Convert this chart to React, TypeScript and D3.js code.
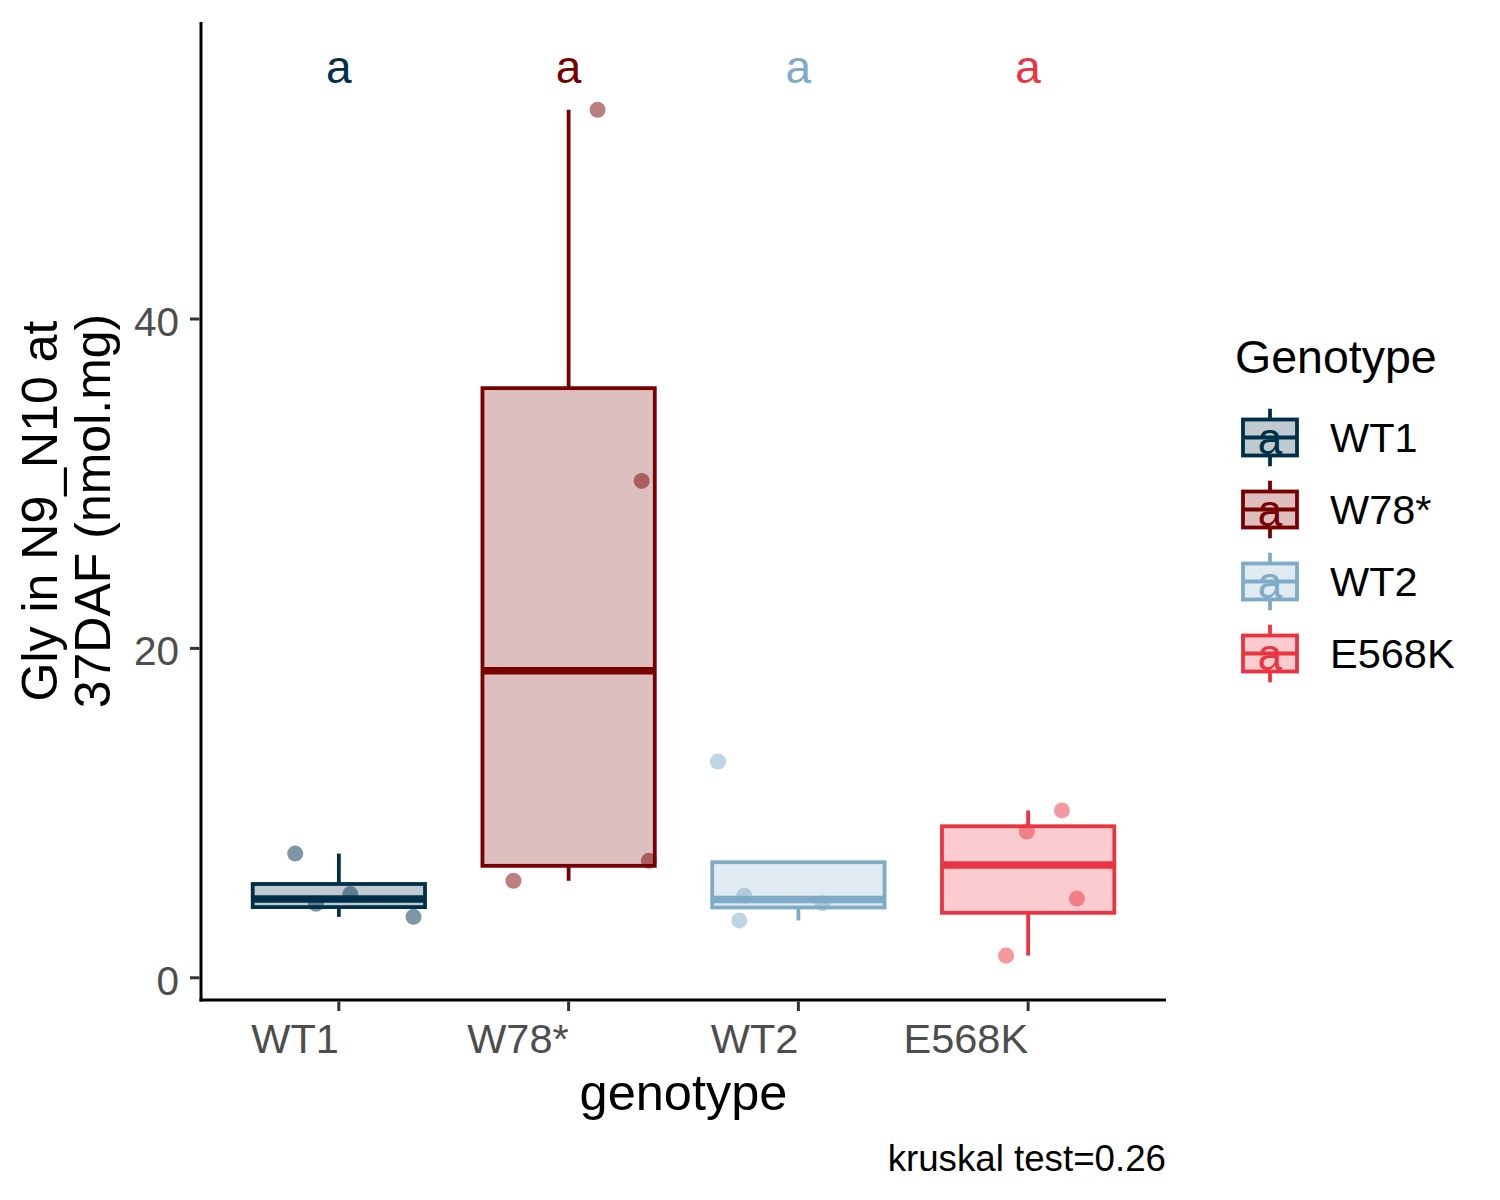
import { useEffect, useRef } from 'react';
import * as d3 from 'd3';

const genotypes = ['WT1', 'W78*', 'WT2', 'E568K'];
const genotypeColors = ['#003049', '#780000', '#7EABC7', '#EB3441'];
// Gly in N9_N10 at 37DAF (nmol.mg), four replicates per genotype
const glyValues = [
  [7.54, 4.49, 5.08, 3.7],
  [52.7, 30.17, 7.1, 5.89],
  [13.13, 4.98, 3.48, 4.53],
  [10.16, 8.88, 4.81, 1.35],
];
// horizontal jitter of each point, in category steps
const jitterOffsets = [
  [-0.19, -0.1, 0.05, 0.325],
  [0.126, 0.318, 0.349, -0.24],
  [-0.35, -0.235, -0.257, 0.105],
  [0.147, -0.006, 0.212, -0.096],
];
const groupLetters = ['a', 'a', 'a', 'a'];
const yTicks = [0, 20, 40];
const yTitleLines = ['Gly in N9_N10 at', '37DAF (nmol.mg)'];
const xTitle = 'genotype';
const legendTitle = 'Genotype';
const caption = 'kruskal test=0.26';

const WIDTH = 1500;
const HEIGHT = 1200;
const FONT = '"Liberation Sans", Arial, sans-serif';

function boxStats(values: number[]) {
  const s = [...values].sort(d3.ascending);
  const q1 = d3.quantile(s, 0.25) ?? 0;
  const med = d3.quantile(s, 0.5) ?? 0;
  const q3 = d3.quantile(s, 0.75) ?? 0;
  const iqr = q3 - q1;
  const inside = s.filter((v) => v >= q1 - 1.5 * iqr && v <= q3 + 1.5 * iqr);
  return {
    q1,
    med,
    q3,
    lo: Math.min(q1, d3.min(inside) ?? q1),
    hi: Math.max(q3, d3.max(inside) ?? q3),
  };
}

function BoxChart() {
  const svgRef = useRef<SVGSVGElement>(null);

  useEffect(() => {
    if (!svgRef.current) return;
    const svg = d3.select(svgRef.current);
    svg.selectAll('*').remove();

    const panel = { left: 201, right: 1166, top: 22, bottom: 1000 };

    const allValues = glyValues.flat();
    const labelY = (d3.max(allValues) ?? 0) * 1.05;
    const yMin = d3.min(allValues) ?? 0;
    const span = labelY - yMin;

    const x = d3
      .scalePoint<string>()
      .domain(genotypes)
      .range([panel.left, panel.right])
      .padding(0.6);
    const step = x.step();
    const y = d3
      .scaleLinear()
      .domain([yMin - 0.05 * span, labelY + 0.05 * span])
      .range([panel.bottom, panel.top]);

    const g = svg.append('g').style('font-family', FONT);

    // jittered points, under the boxes
    genotypes.forEach((gt, i) => {
      g.append('g')
        .selectAll('circle')
        .data(glyValues[i])
        .join('circle')
        .attr('cx', (_, j) => (x(gt) ?? 0) + jitterOffsets[i][j] * step)
        .attr('cy', (d) => y(d))
        .attr('r', 8)
        .attr('fill', genotypeColors[i])
        .attr('fill-opacity', 0.5);
    });

    // boxplots
    const boxW = step * 0.75;
    genotypes.forEach((gt, i) => {
      const st = boxStats(glyValues[i]);
      const cx = x(gt) ?? 0;
      const col = genotypeColors[i];
      const bg = g.append('g');
      bg.append('line')
        .attr('x1', cx).attr('x2', cx)
        .attr('y1', y(st.q3)).attr('y2', y(st.hi))
        .attr('stroke', col).attr('stroke-width', 3.8);
      bg.append('line')
        .attr('x1', cx).attr('x2', cx)
        .attr('y1', y(st.q1)).attr('y2', y(st.lo))
        .attr('stroke', col).attr('stroke-width', 3.8);
      bg.append('rect')
        .attr('x', cx - boxW / 2)
        .attr('y', y(st.q3))
        .attr('width', boxW)
        .attr('height', y(st.q1) - y(st.q3))
        .attr('fill', col)
        .attr('fill-opacity', 0.25)
        .attr('stroke', col)
        .attr('stroke-width', 3.8);
      bg.append('line')
        .attr('x1', cx - boxW / 2).attr('x2', cx + boxW / 2)
        .attr('y1', y(st.med)).attr('y2', y(st.med))
        .attr('stroke', col).attr('stroke-width', 7.5);
    });

    // group letters
    g.append('g')
      .selectAll('text')
      .data(genotypes)
      .join('text')
      .attr('x', (d) => x(d) ?? 0)
      .attr('y', y(labelY) + 17)
      .attr('text-anchor', 'middle')
      .attr('fill', (_, i) => genotypeColors[i])
      .style('font-size', '46px')
      .text((_, i) => groupLetters[i]);

    // axes
    g.append('line')
      .attr('x1', panel.left).attr('x2', panel.left)
      .attr('y1', panel.top).attr('y2', panel.bottom + 1.5)
      .attr('stroke', '#000').attr('stroke-width', 3);
    g.append('line')
      .attr('x1', panel.left - 1.5).attr('x2', panel.right)
      .attr('y1', panel.bottom).attr('y2', panel.bottom)
      .attr('stroke', '#000').attr('stroke-width', 3);

    const yAxis = g.append('g');
    yTicks.forEach((t) => {
      yAxis.append('line')
        .attr('x1', panel.left - 11).attr('x2', panel.left - 1.5)
        .attr('y1', y(t)).attr('y2', y(t))
        .attr('stroke', '#333').attr('stroke-width', 3);
      yAxis.append('text')
        .attr('x', panel.left - 22)
        .attr('y', y(t) + 17)
        .attr('text-anchor', 'end')
        .attr('fill', '#4D4D4D')
        .style('font-size', '40.5px')
        .text(String(t));
    });

    const xAxis = g.append('g');
    genotypes.forEach((gt) => {
      const cx = x(gt) ?? 0;
      xAxis.append('line')
        .attr('x1', cx).attr('x2', cx)
        .attr('y1', panel.bottom + 1.5).attr('y2', panel.bottom + 11)
        .attr('stroke', '#333').attr('stroke-width', 3);
      xAxis.append('text')
        .attr('x', cx)
        .attr('y', 1053)
        .attr('text-anchor', 'end')
        .attr('fill', '#4D4D4D')
        .style('font-size', '41.5px')
        .text(gt);
    });

    // titles
    const midY = (panel.top + panel.bottom) / 2;
    [57, 110].forEach((bx, i) => {
      g.append('text')
        .attr('transform', `translate(${bx},${midY}) rotate(-90)`)
        .attr('text-anchor', 'middle')
        .attr('fill', '#000')
        .style('font-size', '50px')
        .text(yTitleLines[i]);
    });
    g.append('text')
      .attr('x', (panel.left + panel.right) / 2)
      .attr('y', 1110)
      .attr('text-anchor', 'middle')
      .attr('fill', '#000')
      .style('font-size', '50.5px')
      .text(xTitle);
    g.append('text')
      .attr('x', panel.right)
      .attr('y', 1171)
      .attr('text-anchor', 'end')
      .attr('fill', '#000')
      .style('font-size', '36.7px')
      .text(caption);

    // legend
    const lg = g.append('g');
    lg.append('text')
      .attr('x', 1235)
      .attr('y', 373)
      .attr('fill', '#000')
      .style('font-size', '46.5px')
      .text(legendTitle);
    const key = 72;
    const keyX = 1234;
    const keyY = 401.5;
    genotypes.forEach((gt, i) => {
      const col = genotypeColors[i];
      const top = keyY + i * key;
      const cx = keyX + key / 2;
      const kg = lg.append('g');
      kg.append('line')
        .attr('x1', cx).attr('x2', cx)
        .attr('y1', top + key * 0.1).attr('y2', top + key * 0.9)
        .attr('stroke', col).attr('stroke-width', 3.8);
      kg.append('rect')
        .attr('x', keyX + key * 0.125)
        .attr('y', top + key * 0.25)
        .attr('width', key * 0.75)
        .attr('height', key * 0.5)
        .attr('fill', '#fff');
      kg.append('rect')
        .attr('x', keyX + key * 0.125)
        .attr('y', top + key * 0.25)
        .attr('width', key * 0.75)
        .attr('height', key * 0.5)
        .attr('fill', col)
        .attr('fill-opacity', 0.25)
        .attr('stroke', col)
        .attr('stroke-width', 3.8);
      kg.append('line')
        .attr('x1', keyX + key * 0.125).attr('x2', keyX + key * 0.875)
        .attr('y1', top + key / 2).attr('y2', top + key / 2)
        .attr('stroke', col).attr('stroke-width', 3.8);
      kg.append('text')
        .attr('x', cx)
        .attr('y', top + key / 2 + 16)
        .attr('text-anchor', 'middle')
        .attr('fill', col)
        .style('font-size', '44px')
        .text(groupLetters[i]);
      kg.append('text')
        .attr('x', 1330)
        .attr('y', top + key / 2 + 14)
        .attr('fill', '#000')
        .style('font-size', '41.5px')
        .text(gt);
    });
  }, []);

  return (
    <svg
      ref={svgRef}
      width={WIDTH}
      height={HEIGHT}
      style={{ position: 'absolute', left: 0, top: 0, background: '#fff' }}
    />
  );
}

export default function App() {
  return <BoxChart />;
}
